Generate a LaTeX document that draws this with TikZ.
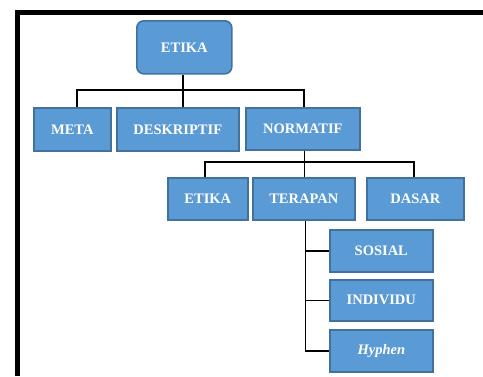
\documentclass[tikz,border=0pt]{standalone}
\usepackage{fontspec}
\setmainfont{Liberation Serif}
\usetikzlibrary{positioning}
\definecolor{boxblue}{HTML}{5B9BD5}
\definecolor{boxline}{HTML}{41719C}
\tikzset{
  box/.style={draw=boxline, line width=1.6pt, fill=boxblue, text=white,
    font=\fontsize{14.5}{16}\selectfont\bfseries, inner sep=0pt, anchor=north west},
  link/.style={line width=1.6pt, black},
}
\begin{document}
\begin{tikzpicture}[x=1pt, y=-1pt]
			%%%%% START %%%%%
			\useasboundingbox (0, 0) rectangle (483, 376);
			\draw[line width=5pt] (17.5, 376) -- (17.5, 12.5) -- (483, 12.5);
			
			\node[box, rounded corners=7pt, minimum width=95pt, minimum height=53pt] (etika) at (136, 20) {ETIKA};
			
			\node[box, minimum width=77pt, minimum height=43pt] (meta) at (33, 107) {META};
			\node[box, minimum width=122pt, minimum height=43pt] (deskriptif) at (116, 107) {DESKRIPTIF};
			\node[box, minimum width=114pt, minimum height=42pt] (normatif) at (245, 107) {NORMATIF};
			
			\node[box, minimum width=80pt, minimum height=42pt] (etika2) at (167, 177) {ETIKA};
			\node[box, minimum width=102pt, minimum height=42pt] (terapan) at (252, 177) {TERAPAN};
			\node[box, minimum width=97pt, minimum height=42pt] (dasar) at (366, 177) {DASAR};
			
			\node[box, minimum width=103pt, minimum height=42pt] (sosial) at (329, 229) {SOSIAL};
			\node[box, minimum width=103pt, minimum height=41pt] (individu) at (329, 279) {INDIVIDU};
			\node[box, minimum width=103pt, minimum height=42pt] (hyphen) at (329, 329) {\itshape Hyphen};
			
			\coordinate (e1) at ([xshift=-1.5pt]etika.south);
			\draw[link] (e1) -- (e1 |- deskriptif.north);
			\coordinate (m1) at ([xshift=4.5pt]meta.north);
			\draw[link] (m1) -- (m1 |- 0, 90) -| ([xshift=1pt]normatif.north);
			
			\draw[link] ([xshift=1.5pt]normatif.south) coordinate (n1) -- (n1 |- terapan.north);
			\coordinate (t1) at ([xshift=-3pt]etika2.north);
			\draw[link] (t1) -- (t1 |- 0, 162) -| ([xshift=-1.5pt]dasar.north);
			
			\coordinate (t2) at ([xshift=1.5pt]terapan.south);
			\draw[link] (t2) -- (t2 |- hyphen.west) -- (hyphen.west);
			\draw[link] (sosial.west) -- (sosial.west -| t2);
			\draw[link] (individu.west) -- (individu.west -| t2);
			%%%%% END %%%%%
\end{tikzpicture}
\end{document}
